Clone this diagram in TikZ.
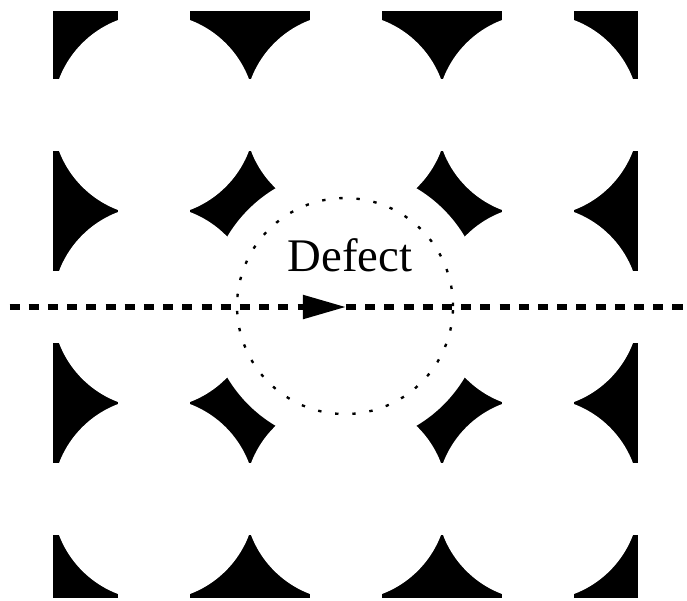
\documentclass[tikz,border=0pt]{standalone}
\usepackage{fontspec}
\setmainfont{Liberation Serif}
\usetikzlibrary{arrows.meta}

\begin{document}
\begin{tikzpicture}[
	hole/.style = {fill=white},
	tile/.style = {fill=black},
	pathline/.style = {line width=3.2pt, dash pattern=on 0.21cm off 0.19cm},
	ring/.style = {line width=1.4pt, dash pattern=on 2pt off 8.2pt}]
	
	% Picture frame
	\useasboundingbox (-7.208,-6.104) rectangle (7.104,6.396);
	
	% Lattice: black tiles cut by white holes
	\begin{scope}
		\clip (-6.10,-6.06) rectangle (6.08,6.15);
		\foreach \x in {-6,-2,2,6}
			\foreach \y in {-6,-2,2,6}
				\fill[tile] (\x-1.25,\y-1.25) rectangle (\x+1.25,\y+1.25);
		\foreach \x in {-4,0,4}
			\foreach \y in {-4,0,4}
				\fill[hole] (\x,\y) circle [radius=2.115cm];
		% enlarged hole at the defect
		\fill[hole] (0,0) circle [radius=2.875cm];
	\end{scope}
	
	% Dotted ring round the defect
	\draw[ring] (-0.02,0.02) circle [radius=2.25cm];
	
	% Path through the defect
	\coordinate (west) at (-7.01,0);
	\coordinate (core) at (0,0);
	\coordinate (east) at (7.15,0);
	\draw[pathline, -{Triangle[length=0.9cm,width=0.48cm]}] (west) -- (core);
	\draw[pathline] (core) -- (east);
	
	% Label
	\node[anchor=base, font=\fontsize{27.7}{33}\selectfont, inner sep=0pt] (defect) at (0.08,0.75) {Defect};
	
\end{tikzpicture}
\end{document}
